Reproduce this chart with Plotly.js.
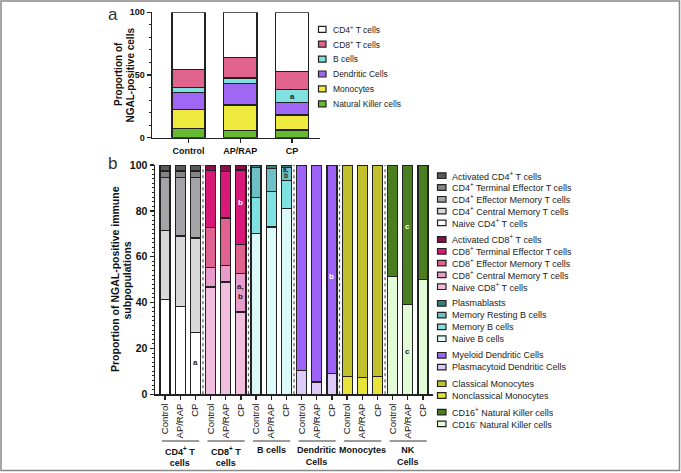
<!DOCTYPE html>
<html><head><meta charset="utf-8">
<script src="https://cdn.plot.ly/plotly-3.0.1.min.js"></script>
<style>html,body{margin:0;padding:0;background:#fff}#chart{width:681px;height:473px}</style>
</head><body><div id="chart"></div>
<script>
// ================= DATA =================
const conditions = ["Control", "AP/RAP", "CP"];

// Panel a (stack order bottom -> top)
const popNames = ["Natural Killer cells", "Monocytes", "Dendritic Cells", "B cells",
                  "CD8<sup>+</sup> T cells", "CD4<sup>+</sup> T cells"];
const nkCells        = [7.4, 5.9, 6.1];
const monocytes      = [15.2, 20.2, 12.0];
const dendriticCells = [13.6, 17.3, 10.1];
const bCells         = [3.7, 4.2, 10.1];
const cd8Cells       = [14.6, 16.5, 14.6];
const cd4Cells       = [45.5, 35.9, 47.1];

// Panel b groups
const groupLabels = ["CD4<sup>+</sup> T<br>cells", "CD8<sup>+</sup> T<br>cells", "B cells",
                     "Dendritic<br>Cells", "Monocytes", "NK<br>Cells"];

// CD4+ T cell subsets (bottom -> top)
const cd4Names = ["Naive CD4<sup>+</sup> T cells", "CD4<sup>+</sup> Central Memory T cells",
  "CD4<sup>+</sup> Effector Memory T cells", "CD4<sup>+</sup> Terminal Effector T cells", "Activated CD4<sup>+</sup> T cells"];
const cd4Naive       = [41.2, 38.4, 27.0];
const cd4CentralMem  = [30.1, 30.6, 41.2];
const cd4EffectorMem = [23.3, 25.5, 26.2];
const cd4TermEff     = [2.8, 2.9, 3.0];
const cd4Activated   = [2.6, 2.6, 2.6];

// CD8+ T cell subsets
const cd8Names = ["Naive CD8<sup>+</sup> T cells", "CD8<sup>+</sup> Central Memory T cells",
  "CD8<sup>+</sup> Effector Memory T cells", "CD8<sup>+</sup> Terminal Effector T cells", "Activated CD8<sup>+</sup> T cells"];
const cd8Naive       = [46.8, 49.0, 35.9];
const cd8CentralMem  = [8.4, 7.2, 16.7];
const cd8EffectorMem = [17.4, 20.7, 12.8];
const cd8TermEff     = [24.9, 20.4, 32.4];
const cd8Activated   = [2.5, 2.7, 2.2];

// B cell subsets
const bNames = ["Naive B cells", "Memory B cells", "Memory Resting B cells", "Plasmablasts"];
const bNaive         = [70.1, 73.0, 81.0];
const bMemory        = [15.6, 15.3, 12.3];
const bMemoryResting = [13.3, 10.2, 5.7];
const bPlasmablasts  = [1.0, 1.5, 1.0];

// Dendritic cell subsets
const dcNames = ["Plasmacytoid Dendritic Cells", "Myeloid Dendritic Cells"];
const dcPlasmacytoid = [10.5, 5.4, 9.2];
const dcMyeloid      = [89.5, 94.6, 90.8];

// Monocyte subsets
const monoNames = ["Nonclassical Monocytes", "Classical Monocytes"];
const monoNonclassical = [7.6, 7.3, 7.6];
const monoClassical    = [92.4, 92.7, 92.4];

// NK cell subsets
const nkNames = ["CD16<sup>-</sup> Natural Killer cells", "CD16<sup>+</sup> Natural Killer cells"];
const nkCD16neg = [51.4, 39.0, 50.2];
const nkCD16pos = [48.6, 61.0, 49.8];

// Significance letters [barIndex, value, text, colour]
const sigTop = [[2, 33.2, "a", "#222"]];
const sigBottom = [
  [2, 13.8, "a", "#222"], [5, 83.6, "b", "#fff"], [5, 46.8, "a,", "#222"], [5, 42.6, "b", "#222"],
  [8, 98.0, "a,", "#222"], [8, 95.6, "b", "#222"], [11, 51.5, "b", "#fff"],
  [16, 73.0, "c", "#fff"], [16, 18.7, "c", "#222"]
];

// ================= STYLE =================
const F = "Liberation Sans, Arial, Helvetica, sans-serif";
const W = 681, H = 473;
const px = v => v / W, py = v => 1 - v / H;
const EDGE = "#222";

const topColors = ["#64bb32", "#eeea3e", "#a066f4", "#80e2e0", "#e0648e", "#ffffff"];
const groups = [
  {names: cd4Names, vals: [cd4Naive, cd4CentralMem, cd4EffectorMem, cd4TermEff, cd4Activated],
   colors: ["#ffffff", "#d8d8d8", "#a4a4a7", "#858585", "#5a5a5a"]},
  {names: cd8Names, vals: [cd8Naive, cd8CentralMem, cd8EffectorMem, cd8TermEff, cd8Activated],
   colors: ["#f1bfdd", "#e89ccb", "#e0638f", "#d8197a", "#8a0d4c"]},
  {names: bNames, vals: [bNaive, bMemory, bMemoryResting, bPlasmablasts],
   colors: ["#ddfafa", "#7fe2e2", "#6dc0c6", "#3c7c7c"]},
  {names: dcNames, vals: [dcPlasmacytoid, dcMyeloid], colors: ["#dccaf9", "#9d63f7"]},
  {names: monoNames, vals: [monoNonclassical, monoClassical], colors: ["#e8e43c", "#c2c02c"]},
  {names: nkNames, vals: [nkCD16neg, nkCD16pos], colors: ["#e2fcd8", "#4a7e1e"]}
];

// ================= TRACES =================
const traces = [];
const topVals = [nkCells, monocytes, dendriticCells, bCells, cd8Cells, cd4Cells];
topVals.forEach((v, i) => traces.push({
  type: "bar", x: [0, 1, 2], y: v, name: popNames[i], xaxis: "x", yaxis: "y", width: 0.64,
  marker: {color: topColors[i], line: {color: EDGE, width: 1.5}}, hoverinfo: "skip"
}));

const xCats = [], xTickText = [];
groups.forEach((g, gi) => {
  const xs = [gi * 3, gi * 3 + 1, gi * 3 + 2];
  xs.forEach((x, k) => { xCats.push(x); xTickText.push(conditions[k]); });
  g.vals.forEach((v, si) => traces.push({
    type: "bar", x: xs, y: v, name: g.names[si], xaxis: "x2", yaxis: "y2", width: 0.66,
    marker: {color: g.colors[si], line: {color: EDGE, width: 1.2}}, hoverinfo: "skip"
  }));
});

// ================= SHAPES & ANNOTATIONS =================
const shapes = [], annotations = [];
const ann = o => annotations.push(Object.assign({showarrow: false, xanchor: "center", yanchor: "middle"}, o));

// outer frame
shapes.push({type: "rect", xref: "paper", yref: "paper", x0: px(1), x1: px(679.5), y0: py(1), y1: py(470.5),
  line: {color: "#888", width: 1.5}});

// group separators (dotted)
for (let gi = 1; gi < groups.length; gi++) {
  shapes.push({type: "line", xref: "x2", yref: "y2", x0: gi * 3 - 0.5, x1: gi * 3 - 0.5, y0: 0, y1: 100,
    line: {color: "#555", width: 1.2, dash: "dot"}});
}
// group underline + labels
groups.forEach((g, gi) => {
  shapes.push({type: "line", xref: "x2", yref: "paper", x0: gi * 3 - 0.2, x1: gi * 3 + 2.25,
    y0: py(441), y1: py(441), line: {color: "#9a9a9a", width: 2}});
  ann({xref: "x2", yref: "paper", x: gi * 3 + 1, y: py(443), yanchor: "top",
    text: groupLabels[gi], font: {family: F, size: 9, weight: "bold", color: "#111"}});
});

// panel a legend (top -> bottom)
const topOrder = [5, 4, 3, 2, 1, 0];
topOrder.forEach((idx, i) => {
  const yc = 29.3 + 14.9 * i;
  shapes.push({type: "rect", xref: "paper", yref: "paper", x0: px(318.5), x1: px(326), y0: py(yc + 3), y1: py(yc - 3),
    fillcolor: topColors[idx], line: {color: EDGE, width: 1.2}});
  ann({xref: "paper", yref: "paper", x: px(331), y: py(yc), xanchor: "left",
    text: popNames[idx], font: {family: F, size: 8.5, color: "#222"}});
});

// panel b legend
let item = 0;
groups.forEach((g, gi) => {
  for (let si = g.names.length - 1; si >= 0; si--) {
    const yc = 175.7 + 11.8 * item + 4.8 * gi;
    shapes.push({type: "rect", xref: "paper", yref: "paper", x0: px(437.5), x1: px(446), y0: py(yc + 2.8), y1: py(yc - 2.8),
      fillcolor: g.colors[si], line: {color: EDGE, width: 1.2}});
    ann({xref: "paper", yref: "paper", x: px(450), y: py(yc), xanchor: "left",
      text: g.names[si], font: {family: F, size: 9, color: "#222"}});
    item++;
  }
});

// axis titles
ann({xref: "paper", yref: "paper", x: px(118), y: py(74), text: "Proportion of", textangle: -90,
  font: {family: F, size: 10, weight: "bold", color: "#111"}});
ann({xref: "paper", yref: "paper", x: px(129.5), y: py(75), text: "NGAL-positive cells", textangle: -90,
  font: {family: F, size: 10, weight: "bold", color: "#111"}});
ann({xref: "paper", yref: "paper", x: px(115), y: py(279), text: "Proportion of NGAL-positive immune", textangle: -90,
  font: {family: F, size: 10.5, weight: "bold", color: "#111"}});
ann({xref: "paper", yref: "paper", x: px(126.5), y: py(281), text: "subpopulations", textangle: -90,
  font: {family: F, size: 10.5, weight: "bold", color: "#111"}});

// panel letters
ann({xref: "paper", yref: "paper", x: px(113), y: py(14), text: "a", font: {family: F, size: 17, color: "#333"}});
ann({xref: "paper", yref: "paper", x: px(112), y: py(164), text: "b", font: {family: F, size: 17, color: "#333"}});

// significance letters
sigTop.forEach(s => ann({xref: "x", yref: "y", x: s[0], y: s[1], text: s[2],
  font: {family: F, size: 8, weight: "bold", color: s[3]}}));
sigBottom.forEach(s => ann({xref: "x2", yref: "y2", x: s[0], y: s[1], text: s[2],
  font: {family: F, size: s[0] === 8 ? 6.5 : 8, weight: "bold", color: s[3]}}));

// ================= LAYOUT =================
const axisCommon = {showline: true, linecolor: EDGE, linewidth: 1.5, ticks: "outside", tickcolor: EDGE,
  tickwidth: 1.3, ticklen: 4, showgrid: false, zeroline: false, fixedrange: true};
const layout = {
  width: W, height: H, margin: {l: 0, r: 0, t: 0, b: 0}, paper_bgcolor: "#fff", plot_bgcolor: "rgba(0,0,0,0)",
  barmode: "stack", showlegend: false, font: {family: F, color: "#222"},
  xaxis: Object.assign({}, axisCommon, {domain: [px(152), px(320)], range: [-0.705, 2.54], anchor: "y",
    tickmode: "array", tickvals: [0, 1, 2], ticktext: conditions,
    tickfont: {family: F, size: 9, weight: "bold", color: "#111"}}),
  yaxis: Object.assign({}, axisCommon, {domain: [py(137.7), py(12.3)], range: [0, 100], anchor: "x",
    tick0: 0, dtick: 50, tickfont: {family: F, size: 9, weight: "bold", color: "#111"},
    minor: {tick0: 0, dtick: 10, ticks: "outside", ticklen: 2, tickcolor: EDGE, tickwidth: 1, showgrid: false}}),
  xaxis2: Object.assign({}, axisCommon, {domain: [px(155), px(433)], range: [-0.66, 17.66], anchor: "y2",
    tickmode: "array", tickvals: xCats, ticktext: xTickText, tickangle: -90,
    tickfont: {family: F, size: 9.5, color: "#111"}}),
  yaxis2: Object.assign({}, axisCommon, {domain: [py(394.3), py(165)], range: [0, 100], anchor: "x2",
    tick0: 0, dtick: 20, tickfont: {family: F, size: 10.5, weight: "bold", color: "#111"},
    minor: {tick0: 0, dtick: 2, ticks: "outside", ticklen: 2, tickcolor: EDGE, tickwidth: 1, showgrid: false}}),
  shapes: shapes, annotations: annotations
};

Plotly.newPlot("chart", traces, layout, {staticPlot: true, displayModeBar: false});
</script></body></html>
